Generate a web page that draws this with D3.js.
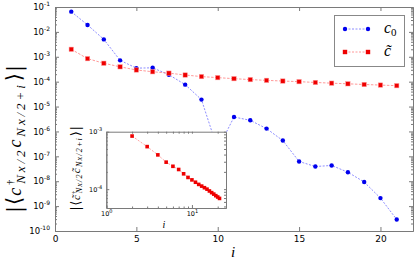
<!DOCTYPE html>
<html>
<head>
<meta charset="utf-8">
<script src="https://cdn.jsdelivr.net/npm/d3@7"></script>
<style>
  body { margin: 0; background: #fff; }
  svg { display: block; }
</style>
</head>
<body>
<svg id="chart" width="415" height="263"></svg>
<script>
// site distance i
var sites = d3.range(1, 22);
// |<c0^dag c0>| , blue circles
var c0_vals = [6.5e-2, 1.9e-2, 5.0e-3, 7.2e-4, 3.5e-4, 3.6e-4, 1.9e-4, 7.6e-5, 1.9e-5, 1.9e-7,
               3.8e-6, 2.8e-6, 1.3e-6, 4.3e-7, 6.2e-8, 3.9e-8, 4.3e-8, 2.3e-8, 9.3e-9, 2.1e-9, 2.9e-10];
// |<ct^dag ct>| , red squares
var ct_vals = [2.0e-3, 8.4e-4, 5.5e-4, 3.95e-4, 2.95e-4, 2.5e-4, 2.2e-4, 1.85e-4, 1.6e-4, 1.45e-4,
               1.32e-4, 1.21e-4, 1.13e-4, 1.06e-4, 1.0e-4, 9.3e-5, 8.7e-5, 8.2e-5, 7.7e-5, 7.3e-5, 6.9e-5];
var x_ticks = [0, 5, 10, 15, 20];
var y_exps = [-10, -9, -8, -7, -6, -5, -4, -3, -2, -1];
var inset_x_exps = [0, 1];
var inset_y_exps = [-4, -3];

var svg = d3.select("#chart");
var frame_col = "#7a7a7a";
var blue = "#0000ee", red = "#ee0000";

var x = d3.scaleLinear().domain([0, 22]).range([55, 413]);
var y = d3.scaleLog().domain([1e-10, 1e-1]).range([231, 7]);

var c0 = sites.map((d, k) => ({i: d, v: c0_vals[k]}));
var ct = sites.map((d, k) => ({i: d, v: ct_vals[k]}));

function minor_log(lo, hi) {
    var out = [];
    for (var e = lo; e < hi; e++) {
        for (var m = 2; m < 10; m++) out.push(m * Math.pow(10, e));
    }
    return out;
}

function pow_label(sel, base_size, sup_size, sup_dy) {
    sel.each(function(d) {
        var t = d3.select(this);
        var e = Math.round(Math.log10(d));
        t.text("10").style("font-size", base_size + "px");
        t.append("tspan").attr("dy", sup_dy).style("font-size", sup_size + "px").text(e);
    });
}

function style_axis(g) {
    g.selectAll("path, line").attr("stroke", frame_col);
    g.selectAll("text").attr("fill", "#000").style("font-family", "DejaVu Sans");
}

// ---------- main axes ----------
svg.append("g").attr("transform", "translate(0,231)")
    .call(d3.axisBottom(x).tickValues(x_ticks).tickSize(-4).tickSizeOuter(0).tickPadding(5))
    .call(style_axis)
    .selectAll("text").style("font-size", "9px");
svg.append("g").attr("transform", "translate(0,7)")
    .call(d3.axisTop(x).tickValues(x_ticks).tickSize(-4).tickSizeOuter(0).tickFormat(""))
    .call(style_axis);

var y_major = y_exps.map(e => Math.pow(10, e));
svg.append("g").attr("transform", "translate(55,0)")
    .call(d3.axisLeft(y).tickValues(y_major).tickSize(-4).tickSizeOuter(0).tickPadding(5))
    .call(style_axis)
    .selectAll("text").call(pow_label, 8.5, 6, -4);
svg.append("g").attr("transform", "translate(55,0)")
    .call(d3.axisLeft(y).tickValues(minor_log(-10, -1)).tickSize(-2).tickSizeOuter(0).tickFormat(""))
    .call(style_axis);
svg.append("g").attr("transform", "translate(413,0)")
    .call(d3.axisRight(y).tickValues(y_major).tickSize(-4).tickSizeOuter(0).tickFormat(""))
    .call(style_axis);
svg.append("g").attr("transform", "translate(413,0)")
    .call(d3.axisRight(y).tickValues(minor_log(-10, -1)).tickSize(-2).tickSizeOuter(0).tickFormat(""))
    .call(style_axis);

// ---------- main series ----------
var line_main = d3.line().x(d => x(d.i)).y(d => y(d.v));

svg.append("path").datum(c0).attr("d", line_main)
    .attr("fill", "none").attr("stroke", "#5555ff").attr("stroke-opacity", 0.75)
    .attr("stroke-width", 0.9).attr("stroke-dasharray", "2,1.5");
svg.append("path").datum(ct).attr("d", line_main)
    .attr("fill", "none").attr("stroke", "#ff6666").attr("stroke-opacity", 0.75)
    .attr("stroke-width", 0.9).attr("stroke-dasharray", "2.5,1.5");

svg.selectAll("circle.c0").data(c0).enter().append("circle")
    .attr("class", "c0")
    .attr("cx", d => x(d.i)).attr("cy", d => y(d.v)).attr("r", 2.2)
    .attr("fill", blue);
svg.selectAll("rect.ct").data(ct).enter().append("rect")
    .attr("class", "ct")
    .attr("x", d => x(d.i) - 2.2).attr("y", d => y(d.v) - 2.2)
    .attr("width", 4.4).attr("height", 4.4)
    .attr("fill", red).attr("stroke", "#ff9999").attr("stroke-width", 0.5);

// ---------- legend ----------
var leg = svg.append("g");
leg.append("rect").attr("x", 334.5).attr("y", 15.5).attr("width", 70).attr("height", 51)
    .attr("fill", "#fff").attr("stroke", "#888").attr("stroke-width", 1);
var leg_items = [
    {name: "c", sub: "0", col: blue, line: "#5555ff", mark: "circle", ly: 29},
    {name: "c\u0303", sub: "", col: red, line: "#ff6666", mark: "rect", ly: 52}
];
leg_items.forEach(function(it) {
    leg.append("line").attr("x1", 345).attr("x2", 368).attr("y1", it.ly).attr("y2", it.ly)
        .attr("stroke", it.line).attr("stroke-opacity", 0.75).attr("stroke-width", 0.9)
        .attr("stroke-dasharray", "2,1.5");
    [345, 368].forEach(function(px) {
        if (it.mark == "circle") {
            leg.append("circle").attr("cx", px).attr("cy", it.ly).attr("r", 2.2).attr("fill", it.col);
        } else {
            leg.append("rect").attr("x", px - 2.2).attr("y", it.ly - 2.2).attr("width", 4.4).attr("height", 4.4)
                .attr("fill", it.col);
        }
    });
    var t = leg.append("text").attr("x", 384).attr("y", it.ly + 4)
        .style("font-family", "Liberation Serif").style("font-style", "italic").style("font-size", "16px")
        .text(it.name);
    if (it.sub) t.append("tspan").attr("dy", 3).style("font-style", "normal").style("font-size", "11px").text(it.sub);
});

// ---------- axis titles ----------
svg.append("text").attr("x", 233).attr("y", 257).attr("text-anchor", "middle")
    .style("font-family", "Liberation Serif").style("font-style", "italic").style("font-size", "15px")
    .text("i");

// rotated |<c^dag_{Nx/2} c_{Nx/2+i}>| label, letter-spaced out to a target length
function corr_label(g, cx, cy, s, tilde, target) {
    var c = tilde ? "c\u0303" : "c";
    var t = g.append("text").attr("transform", "translate(" + cx + "," + cy + ") rotate(-90)")
        .attr("text-anchor", "middle")
        .style("font-family", "Liberation Serif");
    var parts = [
        {txt: "|", fs: 21 * s, dy: 0, fam: "DejaVu Serif"},
        {txt: "\u27E8", fs: 21 * s, dy: 0, fam: "DejaVu Sans", dx: 1 * s},
        {txt: c, fs: 18 * s, it: true, dy: 0, dx: 1 * s, sp: true},
        {txt: "\u2020", fs: 10 * s, dy: -7 * s},
        {txt: "Nx/2", fs: 13 * s, it: true, dy: 11 * s, dx: -4 * s, sp: true},
        {txt: c, fs: 18 * s, it: true, dy: -4 * s, sp: true},
        {txt: "Nx/2+i", fs: 13 * s, it: true, dy: 4 * s, sp: true},
        {txt: "\u27E9", fs: 21 * s, dy: -4 * s, fam: "DejaVu Sans", dx: 1 * s},
        {txt: "|", fs: 21 * s, dy: 0, fam: "DejaVu Serif", dx: 1 * s}
    ];
    var spans = parts.map(function(p) {
        var ts = t.append("tspan").attr("dy", p.dy).style("font-size", p.fs + "px")
            .style("font-style", p.it ? "italic" : "normal").text(p.txt);
        if (p.dx) ts.attr("dx", p.dx);
        if (p.fam) ts.style("font-family", p.fam);
        return ts;
    });
    var len = t.node().getComputedTextLength();
    var n = d3.sum(parts, p => p.sp ? p.txt.length : 0);
    var ls = Math.max(0, (target - len) / n);
    spans.forEach(function(ts, k) {
        if (parts[k].sp) ts.style("letter-spacing", ls + "px");
    });
    return t;
}
corr_label(svg, 21, 139, 1.0, false, 148);

// ---------- inset ----------
var xi = d3.scaleLog().domain([1, 25]).range([106.3, 226]);
var yi = d3.scaleLog().domain([4.7e-5, 1e-3]).range([208, 131.7]);
var inset = svg.append("g");
inset.append("rect").attr("x", 106.3).attr("y", 131.7).attr("width", 226 - 106.3).attr("height", 208 - 131.7)
    .attr("fill", "#fff");

var xi_major = inset_x_exps.map(e => Math.pow(10, e));
var yi_major = inset_y_exps.map(e => Math.pow(10, e));
inset.append("g").attr("transform", "translate(0,208)")
    .call(d3.axisBottom(xi).tickValues(xi_major).tickSize(-3).tickSizeOuter(0).tickPadding(3))
    .call(style_axis)
    .selectAll("text").call(pow_label, 6.5, 5, -3);
inset.append("g").attr("transform", "translate(0,208)")
    .call(d3.axisBottom(xi).tickValues(minor_log(0, 1).concat([20])).tickSize(-1.5).tickSizeOuter(0).tickFormat(""))
    .call(style_axis);
inset.append("g").attr("transform", "translate(0,131.7)")
    .call(d3.axisTop(xi).tickValues(xi_major.concat(minor_log(0, 1), [20])).tickSize(-2).tickSizeOuter(0).tickFormat(""))
    .call(style_axis);
inset.append("g").attr("transform", "translate(106.3,0)")
    .call(d3.axisLeft(yi).tickValues(yi_major).tickSize(-3).tickSizeOuter(0).tickPadding(4))
    .call(style_axis)
    .selectAll("text").call(pow_label, 6.5, 5, -3);
inset.append("g").attr("transform", "translate(106.3,0)")
    .call(d3.axisLeft(yi).tickValues([5e-5, 6e-5, 7e-5, 8e-5, 9e-5].concat(minor_log(-4, -3))).tickSize(-1.5).tickSizeOuter(0).tickFormat(""))
    .call(style_axis);
inset.append("g").attr("transform", "translate(226,0)")
    .call(d3.axisRight(yi).tickValues(yi_major.concat([5e-5, 6e-5, 7e-5, 8e-5, 9e-5], minor_log(-4, -3))).tickSize(-2).tickSizeOuter(0).tickFormat(""))
    .call(style_axis);

var ct_inset = ct.filter(d => d.i >= 2);
inset.append("path").datum(ct_inset)
    .attr("d", d3.line().x(d => xi(d.i)).y(d => yi(d.v)))
    .attr("fill", "none").attr("stroke", "#ff6666").attr("stroke-opacity", 0.75)
    .attr("stroke-width", 0.8).attr("stroke-dasharray", "2,1.5");
inset.selectAll("rect.cti").data(ct_inset).enter().append("rect")
    .attr("class", "cti")
    .attr("x", d => xi(d.i) - 1.8).attr("y", d => yi(d.v) - 1.8)
    .attr("width", 3.6).attr("height", 3.6)
    .attr("fill", red);

inset.append("text").attr("x", 164).attr("y", 228).attr("text-anchor", "middle")
    .style("font-family", "Liberation Serif").style("font-style", "italic").style("font-size", "10px")
    .text("i");
corr_label(inset, 80, 168.5, 0.62, true, 87);
</script>
</body>
</html>
